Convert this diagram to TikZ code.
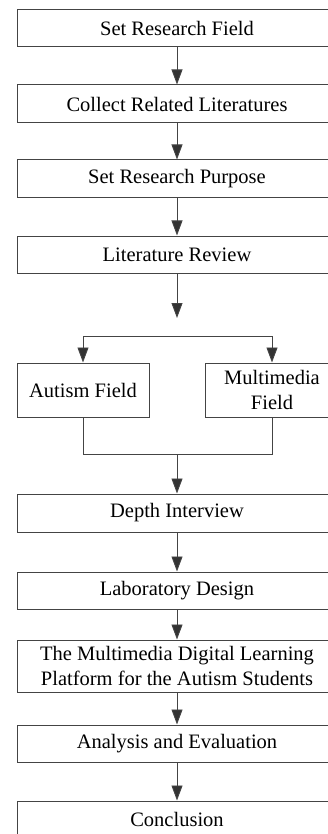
\documentclass[tikz,border=0pt]{standalone}
\usepackage{fontspec}
\setmainfont{Liberation Serif}
\usetikzlibrary{arrows.meta}
\definecolor{linegray}{HTML}{444444}
\definecolor{tipgray}{HTML}{333333}
\begin{document}
\begin{tikzpicture}[x=1pt,y=-1pt,
  box/.style={draw=linegray, line width=1pt, rectangle, inner sep=0pt, align=center,
    font=\fontsize{20.5}{25}\selectfont, minimum width=320pt, minimum height=37pt},
  sidebox/.style={box, minimum height=54pt},
  conn/.style={draw=linegray, line width=0.9pt},
  arr/.style={conn, -{Triangle[length=15pt,width=11pt,fill=tipgray]}, shorten >=0pt}
]
\useasboundingbox (0,0) rectangle (328,834);
\clip (0,0) rectangle (328,834);
\node[box] (n1) at (177,28.5) {Set Research Field};
\node[box, minimum height=38pt] (n2) at (177,104) {Collect Related Literatures};
\node[box, minimum height=38pt] (n3) at (177,179) {Set Research Purpose};
\node[box] (n4) at (177,254.5) {Literature Review};
\node[sidebox, minimum width=132pt] (aut) at (83,390) {Autism Field};
\node[sidebox, minimum width=134pt] (mul) at (272,390) {Multimedia\\Field};
\node[box, minimum height=38pt] (dep) at (177,513) {Depth Interview};
\node[box] (lab) at (177,590.5) {Laboratory Design};
\node[box, minimum height=52pt] (pla) at (177,666) {The Multimedia Digital Learning\\Platform for the Autism Students};
\node[box] (ana) at (177,743.5) {Analysis and Evaluation};
\node[box] (con) at (177,819.5) {Conclusion};
\coordinate (gapend) at (177,318);
\coordinate (splitL) at (83,336);
\coordinate (splitR) at (272,336);
\coordinate (joinL) at (83,454);
\coordinate (joinR) at (272,454);
\coordinate (joinM) at (177,454);
\draw[arr] (n1) -- (n2);
\draw[arr] (n2) -- (n3);
\draw[arr] (n3) -- (n4);
\draw[arr] (n4) -- (gapend);
\draw[conn] (splitL) -- (splitR);
\draw[arr] (splitL) -- (aut);
\draw[arr] (splitR) -- (mul);
\draw[conn] (aut.south) -- (joinL) -- (joinR) -- (mul.south);
\draw[arr] (joinM) -- (dep);
\draw[arr] (dep) -- (lab);
\draw[arr] (lab) -- (pla);
\draw[arr] (pla) -- (ana);
\draw[arr] (ana) -- (con);
\end{tikzpicture}
\end{document}
